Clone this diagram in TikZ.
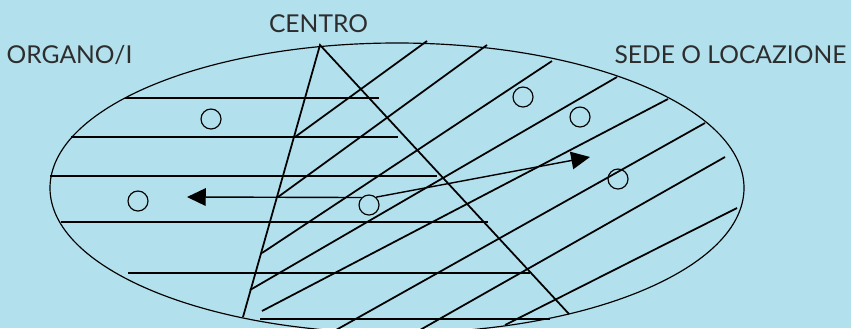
\documentclass[tikz,border=0pt]{standalone}
\usepackage{fontspec}
\setmainfont{Lato}
\usetikzlibrary{arrows.meta}
\definecolor{skybg}{RGB}{178,224,237}
\definecolor{inkgray}{RGB}{45,45,45}

\begin{document}
\begin{tikzpicture}[x=.03cm,y=-.03cm,font=\fontsize{21}{24}\selectfont,
    hatch/.style={line width=1.5pt},
    ring/.style={circle,draw,line width=1pt,inner sep=0pt,minimum size=.6cm},
    headtxt/.style={text=inkgray,inner sep=0pt,anchor=base},
    push/.style={line width=1.2pt,-{Triangle[length=16pt,width=15pt]}}]
  \useasboundingbox (0,0) rectangle (851,328);
  \clip (0,0) rectangle (851,328);
  \fill[skybg] (0,0) rectangle (851,328);
  \draw[line width=1pt] (397,188) ellipse [x radius=347, y radius=145];
  % horizontal strokes (organs)
  \foreach \y/\a/\b in {98/125/379,137/71/398,176/50/437,222/61/488,273/128/530,319/260/550}
    \draw[hatch] (\a,\y)--(\b,\y);
  % centre triangle
  \coordinate (apex) at (320,45);
  \coordinate (baseL) at (243,317);
  \coordinate (baseR) at (569,314);
  \draw[hatch] (baseL)--(apex)--(baseR);
  % slanted strokes (location)
  \foreach \a/\b/\c/\d in {295/137/427/41,278/197/487/45,262/253/552/61,250/290/617/77,
      262/311/668/99,336/330/705/123,420/330/725/157,505/325/737/208}
    \draw[hatch] (\a,\b)--(\c,\d);
  % small circles
  \foreach \n/\x/\y in {c1/211/119,c2/138/201,c3/523/97,c4/580/117,c5/369/205,c6/618/179}
    \node[ring] (\n) at (\x,\y) {};
  \coordinate (tipL) at (187,197);
  \coordinate (tipR) at (590,157);
  \draw[push] (c5.135)--(tipL);
  \draw[push] (c5.48)--(tipR);
  \node[headtxt] (organ) at (69.5,63) {ORGANO/I};
  \node[headtxt] (centre) at (318.5,32) {CENTRO};
  \node[headtxt] (seat) at (730.5,63) {SEDE O LOCAZIONE};
\end{tikzpicture}
\end{document}
